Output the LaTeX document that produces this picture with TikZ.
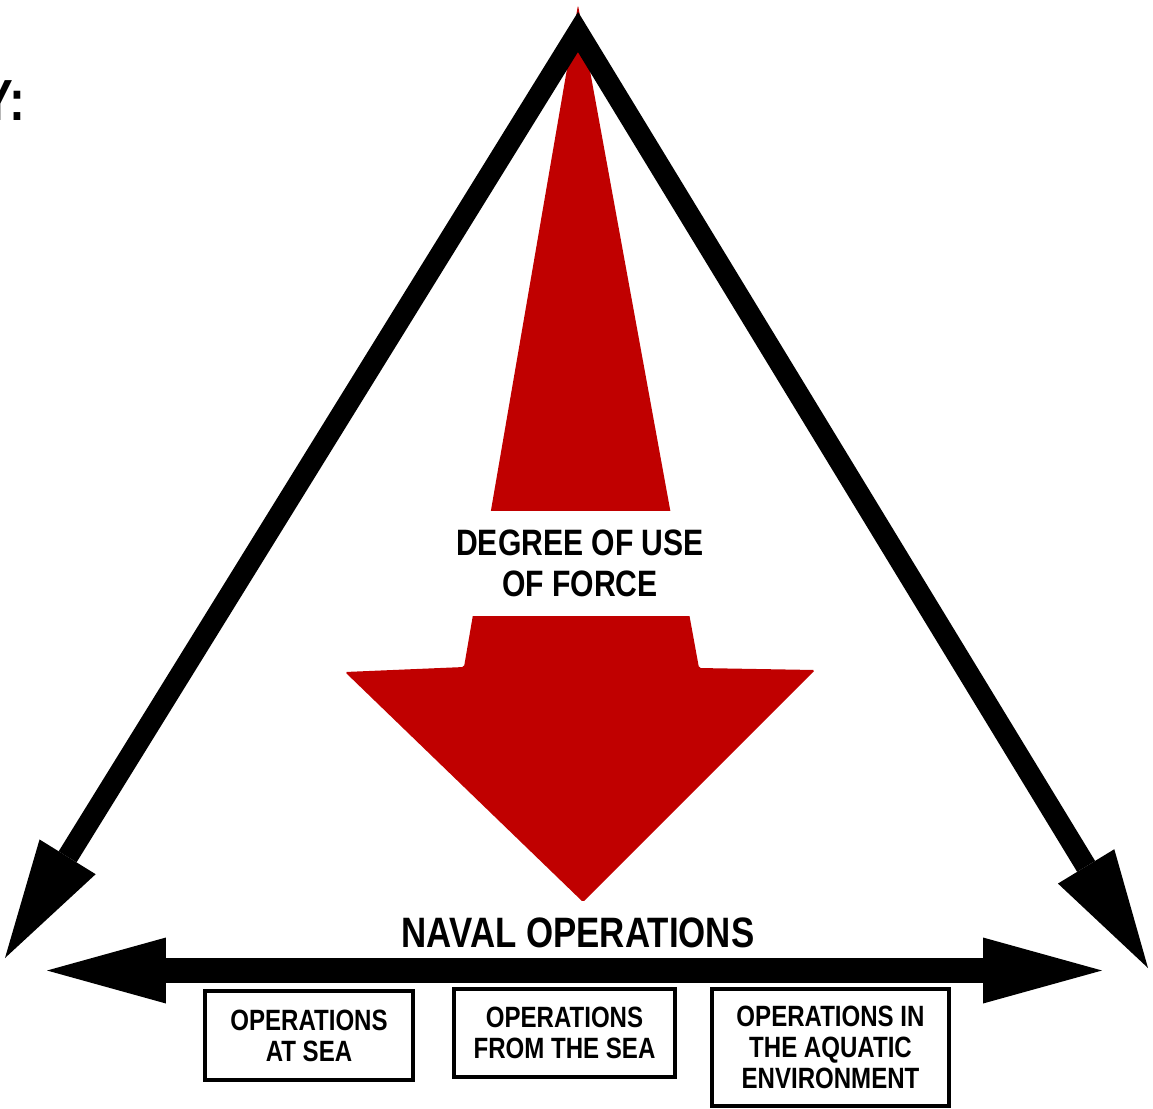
\documentclass[tikz,border=0pt]{standalone}
\usepackage{fontspec}
\newfontfamily\narrowfont[FakeStretch=0.82]{Liberation Sans}
\usetikzlibrary{arrows.meta,fadings}
\definecolor{forcered}{HTML}{C00000}
\tikzfading[name=fade ends,top color=transparent!100,middle color=transparent!0,bottom color=transparent!100]

\begin{document}
\begin{tikzpicture}[x=0.02cm,y=-0.02cm,
		bigtips/.style={line join=miter,
			arrows={Triangle[length=2.38cm,width=1.32cm,line width=0pt]-Triangle[length=2.38cm,width=1.32cm,line width=0pt]}},
		opbox/.style={draw,line width=0.08cm,align=center,inner sep=0pt,
			font=\narrowfont\bfseries\fontsize{16.7pt}{17.6pt}\selectfont}]
	\useasboundingbox (0,0) rectangle (1153,1109);
	
	\shade[left color=white,right color=black!9,path fading=fade ends] (1128,20) rectangle (1153,345);
	\node[anchor=base east,font=\narrowfont\bfseries\fontsize{33pt}{35pt}\selectfont] (cutlabel) at (32,120) {Y:};
	
	% degree of use of force
	\fill[forcered,rounded corners=1pt] (578,5) -- (699,668) -- (815,670) -- (583,902) -- (345,672) -- (464,667) -- cycle;
	\node[fill=white,minimum width=5.4cm,minimum height=2.1cm,align=center,
		font=\narrowfont\bfseries\fontsize{20.9pt}{23.3pt}\selectfont] (force) at (580,563.5) {DEGREE OF USE\\OF FORCE};
	
	\coordinate (apex) at (578,32);
	\coordinate (lefttip) at (5,958);
	\coordinate (righttip) at (1148,968);
	\coordinate (barleft) at (47,970.5);
	\coordinate (barright) at (1102,970.5);
	
	\draw[bigtips,line width=0.42cm] (lefttip) -- (apex) -- (righttip);
	\draw[bigtips,line width=0.5cm] (barleft) -- (barright);
	
	\node[anchor=base,font=\narrowfont\bfseries\fontsize{24.2pt}{26pt}\selectfont] (naval) at (578,947) {NAVAL OPERATIONS};
	
	\node[opbox,minimum width=4.16cm,minimum height=1.78cm] (atsea) at (309,1035.5) {OPERATIONS\\AT SEA};
	\node[opbox,minimum width=4.42cm,minimum height=1.76cm] (fromsea) at (564.5,1033) {OPERATIONS\\FROM THE SEA};
	\node[opbox,minimum width=4.74cm,minimum height=2.34cm] (aquatic) at (830.5,1047.5) {OPERATIONS IN\\THE AQUATIC\\ENVIRONMENT};
\end{tikzpicture}
\end{document}
